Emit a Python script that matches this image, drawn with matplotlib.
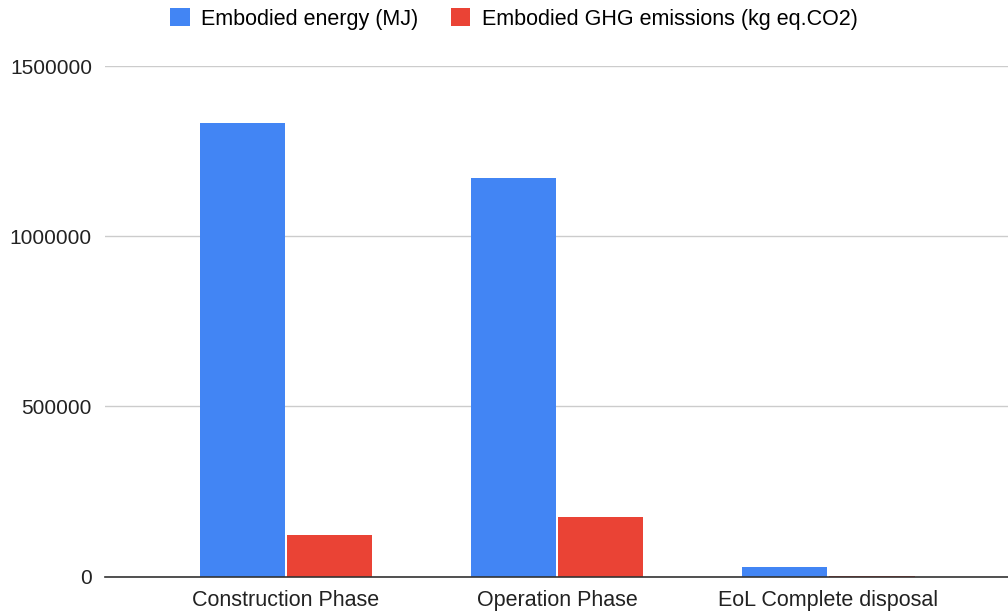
import matplotlib
matplotlib.use("Agg")
import matplotlib.pyplot as plt
import numpy as np

categories = ["Construction Phase", "Operation Phase", "EoL Complete disposal"]
energy = [1332000, 1172000, 29000]
ghg = [122000, 175000, 1500]
series_names = ["Embodied energy (MJ)", "Embodied GHG emissions (kg eq.CO2)"]
yticks = [0, 500000, 1000000, 1500000]

plt.rcParams['font.family'] = ['Liberation Sans', 'DejaVu Sans']

fig = plt.figure(figsize=(10.08, 6.12), dpi=100)
ax = fig.add_axes([105/1008, 1 - 576.5/612, 1 - 105/1008, (576.5 - 66)/612])

x = np.arange(len(categories))
w = 0.315
gap = 0.004
ax.bar(x - w/2 - gap, energy, width=w, color="#4285F4", label=series_names[0], zorder=3)
ax.bar(x + w/2 + gap, ghg, width=w, color="#EA4335", label=series_names[1], zorder=3)

ax.set_xlim(-0.668, 2.664)
ax.set_ylim(0, 1500000)
ax.set_yticks(yticks)
ax.set_yticklabels([str(v) for v in yticks])
ax.set_xticks(x)
ax.set_xticklabels(categories)
ax.tick_params(axis='both', length=0, colors="#222222")
ax.tick_params(axis='x', labelsize=15.5, pad=10)
ax.tick_params(axis='y', labelsize=15, pad=9.4)
ax.grid(axis='y', color="#CCCCCC", linewidth=1, zorder=0)
ax.set_axisbelow(True)
for s in ["top", "right", "left"]:
    ax.spines[s].set_visible(False)
ax.spines["bottom"].set_color("#333333")
ax.spines["bottom"].set_linewidth(1.2)
ax.spines["bottom"].set_zorder(4)

fig.legend(loc="center", bbox_to_anchor=(0.51, 1 - 19/612), ncol=2, frameon=False,
           fontsize=15.5, handlelength=0.9, handleheight=0.9, handletextpad=0.55,
           columnspacing=1.5, borderpad=0)

fig.savefig("out.png", dpi=100)
